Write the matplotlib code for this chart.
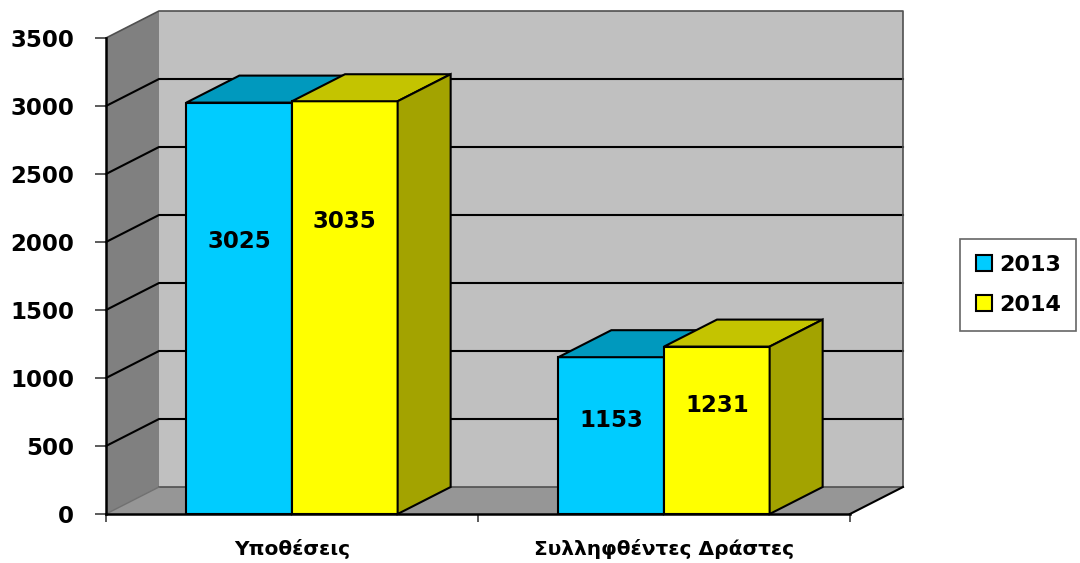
#!/usr/bin/env python3
"""
plot.py – pseudo-3D clustered bars (cases / arrested offenders, 2013 vs 2014).
"""
import matplotlib
matplotlib.use("Agg")
import matplotlib.pyplot as plt
from matplotlib.patches import Polygon, Patch

# ─── Data ────────────────────────────────────────────────────────────────
CATEGORIES = ["Υποθέσεις", "Συλληφθέντες Δράστες"]
YEARS      = ["2013", "2014"]
VALUES     = {"2013": [3025, 1153],
              "2014": [3035, 1231]}
LABEL_Y    = {"2013": [2005, 690],      # where Excel put the value labels
              "2014": [2150, 800]}
YTICKS     = [0, 500, 1000, 1500, 2000, 2500, 3000, 3500]

# ─── Style ───────────────────────────────────────────────────────────────
FRONT = {"2013": "#00CCFF", "2014": "#FFFF00"}
TOP   = {"2013": "#0099BE", "2014": "#C4C400"}
SIDE  = {"2013": "#0080A0", "2014": "#A3A300"}
BACK_WALL  = "#C0C0C0"
SIDE_WALL  = "#808080"
FLOOR      = "#969696"
DEPTH_PX   = (53, 27)       # perspective offset of the back plane, pixels
BAR_W      = 0.284
FONT       = {"family": "DejaVu Sans", "weight": "bold", "size": 16.5}
CAT_FONT   = {"family": "DejaVu Sans", "weight": "bold", "size": 14.5}

W, H, DPI = 1080, 563, 100


def main() -> None:
    fig = plt.figure(figsize=(W / DPI, H / DPI), dpi=DPI)
    fig.patch.set_facecolor("white")
    ax = fig.add_axes([106 / W, 49 / H, 744 / W, 476 / H])
    ax.set_xlim(-0.5, len(CATEGORIES) - 0.5)
    ymax = YTICKS[-1]
    ax.set_ylim(0, ymax)
    ax.patch.set_visible(False)

    # pixel depth -> data units
    x0, x1 = ax.get_xlim()
    dx = DEPTH_PX[0] / 744 * (x1 - x0)
    dy = DEPTH_PX[1] / 476 * ymax

    # walls & floor
    ax.add_patch(Polygon([(x0 + dx, dy), (x1 + dx, dy), (x1 + dx, ymax + dy),
                          (x0 + dx, ymax + dy)], closed=True,
                         facecolor=BACK_WALL, edgecolor="none", zorder=0, clip_on=False))
    ax.add_patch(Polygon([(x0, 0), (x0 + dx, dy), (x0 + dx, ymax + dy), (x0, ymax)],
                         closed=True, facecolor=SIDE_WALL, edgecolor="none",
                         zorder=0, clip_on=False))
    ax.add_patch(Polygon([(x0, 0), (x1, 0), (x1 + dx, dy), (x0 + dx, dy)],
                         closed=True, facecolor=FLOOR, edgecolor="none",
                         zorder=0, clip_on=False))

    # grid lines on side and back walls
    for v in YTICKS[1:-1]:
        ax.plot([x0, x0 + dx, x1 + dx], [v, v + dy, v + dy], color="black",
                lw=1.5, zorder=1, clip_on=False)
    # wall/floor edges
    ax.plot([x0, x0 + dx, x1 + dx, x1 + dx], [ymax, ymax + dy, ymax + dy, dy],
            color="#505050", lw=1.2, zorder=1, clip_on=False)
    ax.plot([x0 + dx, x1 + dx], [dy, dy], color="#505050", lw=1.2, zorder=1, clip_on=False)
    ax.plot([x0, x0 + dx], [0, dy], color="#707070", lw=1.0, zorder=1, clip_on=False)
    ax.plot([x1, x1 + dx], [0, dy], color="black", lw=1.5, zorder=1, clip_on=False)

    # bars
    for k, yr in enumerate(YEARS):
        z = 3 + k
        lefts = [i - BAR_W + k * BAR_W for i in range(len(CATEGORIES))]
        ax.bar(lefts, VALUES[yr], width=BAR_W, align="edge", color=FRONT[yr],
               edgecolor="black", lw=1.5, zorder=z)
        for xl, v in zip(lefts, VALUES[yr]):
            xr = xl + BAR_W
            ax.add_patch(Polygon([(xl, v), (xr, v), (xr + dx, v + dy), (xl + dx, v + dy)],
                                 closed=True, facecolor=TOP[yr], edgecolor="black",
                                 lw=1.5, zorder=z, clip_on=False))
            ax.add_patch(Polygon([(xr, 0), (xr + dx, dy), (xr + dx, v + dy), (xr, v)],
                                 closed=True, facecolor=SIDE[yr], edgecolor="black",
                                 lw=1.5, zorder=z, clip_on=False))
        for xl, v, ly in zip(lefts, VALUES[yr], LABEL_Y[yr]):
            ax.text(xl + BAR_W / 2, ly, f"{v}", ha="center", va="center",
                    zorder=10, **FONT)

    # axes
    for s in ("top", "right"):
        ax.spines[s].set_visible(False)
    for s in ("left", "bottom"):
        ax.spines[s].set_linewidth(1.8)
        ax.spines[s].set_zorder(6)
    ax.set_yticks(YTICKS)
    ax.set_yticklabels([str(t) for t in YTICKS], fontdict=FONT)
    ax.tick_params(axis="y", direction="out", length=8, width=1.2, pad=15,
                   color="#404040")
    ax.set_xticks(range(len(CATEGORIES)))
    ax.set_xticklabels(CATEGORIES, fontdict=CAT_FONT)
    ax.set_xticks([x0 + i for i in range(len(CATEGORIES) + 1)], minor=True)
    ax.tick_params(axis="x", which="major", length=0, pad=18)
    ax.tick_params(axis="x", which="minor", direction="out", length=6, width=1.2,
                   color="#404040")

    # legend
    handles = [Patch(facecolor=FRONT[yr], edgecolor="black", lw=1.5) for yr in YEARS]
    leg = fig.legend(handles, YEARS, loc="center left",
                     bbox_to_anchor=(960 / W, 1 - 285 / H),
                     prop={"family": "DejaVu Sans", "weight": "bold", "size": 16},
                     frameon=True, fancybox=False, edgecolor="#404040",
                     handlelength=0.75, handleheight=0.75, handletextpad=0.3,
                     labelspacing=0.9, borderpad=0.7, borderaxespad=0)
    leg.get_frame().set_linewidth(1.2)

    fig.savefig("out.png", dpi=DPI)


if __name__ == "__main__":
    main()
